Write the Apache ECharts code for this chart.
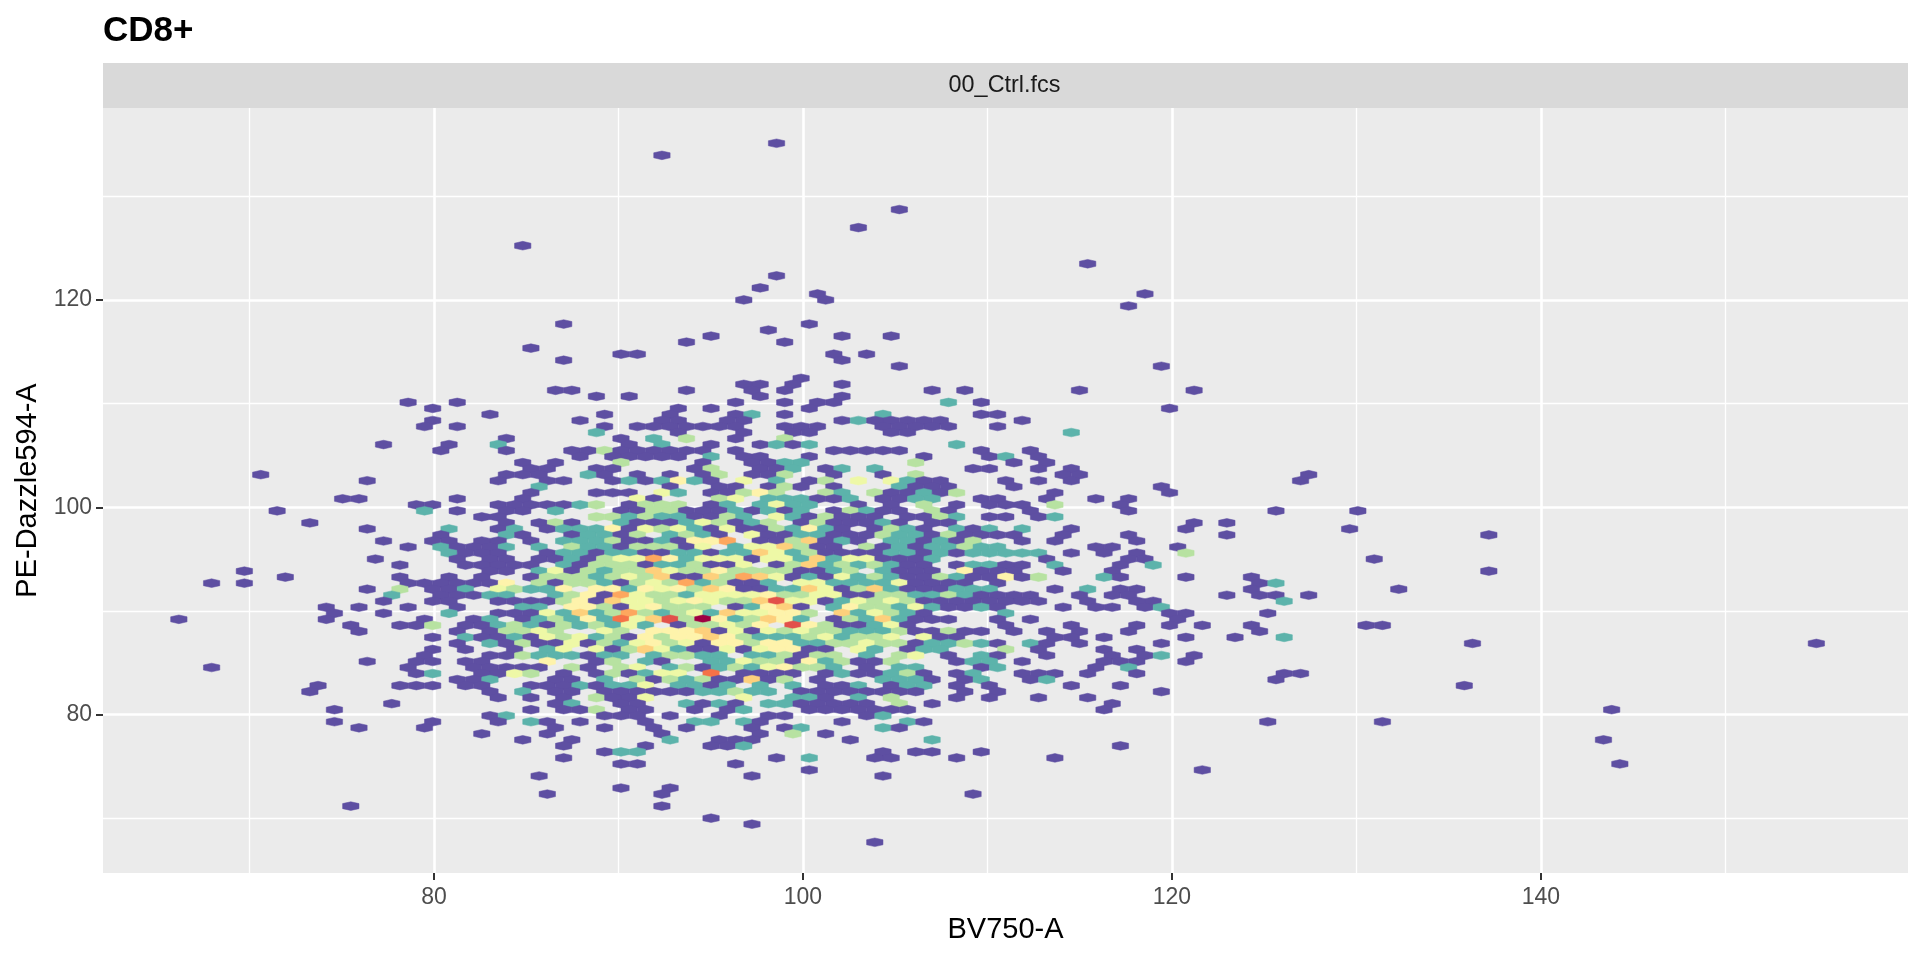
<!DOCTYPE html>
<html>
<head>
<meta charset="utf-8">
<style>html,body{margin:0;padding:0;background:#fff}#chart{width:1920px;height:960px}</style>
<script src="https://cdn.jsdelivr.net/npm/echarts@6/dist/echarts.min.js"></script>
</head>
<body>
<div id="chart"></div>
<script>
const chartTitle = 'CD8+';
const panelLabel = '00_Ctrl.fcs';
const xName = 'BV750-A';
const yName = 'PE-Dazzle594-A';
const xTicks = [80, 100, 120, 140];
const yTicks = [80, 100, 120];
const xMinor = [70, 90, 110, 130, 150];
const yMinor = [70, 90, 110, 130];

// hexagonal bins: column/row index of each occupied bin, written "col" (count 1) or "col:count"
const binOriginX = 62.178, binStepX = 0.4438;
const binOriginY = 110.125, binStepY = 0.58164;
const hexRows = [
[-43,"82"],[-41,"68"],[-32,"97"],[-29,"92"],[-26,"51"],[-23,"120"],[-21,"82"],[-19,"80"],
[-18,"87 127"],[-17,"78 88"],[-16,"125"],[-13,"56 86"],[-12,"81"],[-11,"74 90 96"],[-10,"71 83"],[-9,"52"],
[-8,"63 65 89 93"],[-7,"56 90"],[-6,"97 129"],[-4,"85"],[-3,"78 80 84 90"],
[-2,"55 57 71 79 83 101 105 119 133"],[-1,"60 64 80 90"],
[0,"37 43 77 83 87 89 103:2 107"],
[1,"40 70 74 86 130"],
[2,"47 61 69 77 79:2 83 95:2 107 109"],
[3,"40 58 68 70 76 78 90 92:2 94 96 98 100 102 112"],
[4,"39 43 61 65 67 69 71 73 75 77 83 85 87 95 97 99 101 103 109"],
[5,"60:2 70 78 84 86 96 98 118:2"],
[6,"49 63 67:2 71:3 77 83:3"],
[7,"34 42 48:2 64 68:2 74 80 82:2 84 86:2 104:2"],
[8,"41 49 57 59 61:3 63 65 67 69 71 73 77 89 91 93 95 97 107 113"],
[9,"58 62 64 66 68 70 74:2 78 80 86 100 108 110:2 114"],
[10,"51 55 63:3 73 79 81 83:2 85:2 99:3 111 115"],
[11,"52 54 60 62 72 74:3 80 82 84:2 88 90:2 94:2 106 108 114 118"],
[12,"19 49 51 53 59:2 61 65 69 73 75:3 79 81 83:3 89 95 99:3 117 119 147"],
[13,"32 48 54 56 62 64:2 66 68:2 70:5 72:2 74 78:4 82:2 86 88:3 92:4 96:4 98:2 100 102 110 114 118 146"],
[14,"53:2 69 75 77 81 83:3 85 89 97:2 99 101 103 111 129"],
[15,"52 60 62 64 68:4 70:2 74 76 78:3 80:5 82:3 88:3 90:2 94:3 96 98 100:2 102 104:3 116 130"],
[16,"29 31 43 51 65:4 67 75:3 77:4 81:2 83:2 85:2 87 89 91:2 95 97 99:2 101:2 107 109 115 121 125"],
[17,"38 40 48 50 52 54 56 58:2 60:3 64 66:3 68:3 70:3 74 76:2 80:2 82:4 84:2 86:2 92 96 100:3 104 108 110 112 116:3 124"],
[18,"21 39:2 43 49 51 55:2 63 65 67:3 69:3 71 73 75 77:2 79 81:2 83 85:2 89 91:3 93:2 95 97 101:3 103 113 125 143 153"],
[19,"46 48 60:3 62:3 64:2 66:3 68:2 70:2 72 74 76:3 78:2 82:4 84:2 86 88:3 90 92 94 98 100 102:3 104:2 108 110 114 116:2"],
[20,"25 49 53 55:3 57 63:2 65 67 69 71:2 73:4 75:3 77 79:2 81:3 85 87:3 89 91 93 95:2 97 101 103 133 137"],
[21,"32 42:2 48 50:2 54 56:2 58:2 60:2 62:5 64 66:4 68:3 70:4 72:2 74 76:4 78 80 82:3 84:2 86:5 88:2 90 94 96:3 98:2 100 104:2 106 108:2 112:2 118 132 152"],
[22,"41 49:2 51 57 59:2 61:2 63 65:3 69:2 71:3 73:2 75 79:4 81 83 85:2 87:2 89 91 93 95:3 97:2 99:2 101 103:3 105 107 109 111 117 125 137 169"],
[23,"34 40 42 46 48 52 56:2 58:2 60:2 62:3 64 66 68:2 70 72:5 74:5 76:7 80 82 84:3 86:6 88 90:2 92 96:2 98:2 100 102:2 104 106:3 112 116 126"],
[24,"37 41:2 43 45 47 49:2 53:2 57:3 59:2 61:2 63 65:3 67:3 69:3 71 73:4 77:2 79:4 81:4 83:6 85:3 87 89 93:3 95 97:2 99 101:2 103:2 105:3 107:2 109:2 121 123 131"],
[25,"42:2 44 46 48 54 56:2 58:2 60 62:2 64:2 66 68 70:2 72:2 74 76:2 78:2 80:6 82:4 84:2 86:3 88 90 92 94 96:2 98:2 100 102:2 104 106:2 108:2 110:2 112:2 114:2 118 122 126 132:3"],
[26,"33 43 47 49 53 55 57:2 59 61:3 63:4 65:4 67:7 69:5 71:2 73:4 75:4 77:4 79 81:4 83:4 85:2 87:6 89:2 91:4 93:4 95 97 99 101:2 115 125 127 155"],
[27,"36 44 46 48 50 52 56:2 58 60:3 62:3 64:3 66 68:2 70:2 72:3 74 76 78:4 82 84:3 86:6 88:2 90:3 92:2 94:3 96:2 98 100 104 106:2 108:2 110 112 116:2 124 128:2"],
[28,"17 47 49 53:2 55:4 57 59:3 61:2 63:3 65:3 67:6 69:4 71:3 73:3 75:5 77:3 79:3 81:3 83:3 85 87 89:2 91:3 95:2 97 99 101 105:5 107 109 111 117 123 169"],
[29,"22 36 42 46 52 54:3 56:3 58:3 60:2 62:3 64:4 66:3 68:6 70 72 74:6 76:3 78:7 80:6 82:4 84 86:2 88 90:4 92:2 94:3 96:2 98 100 102:3 104:2 106 108 110:5 112 114:3 122:2 124 132 140"],
[30,"13 17 37 39 41 43 45 47 49:5 53:3 55 57:3 59:3 61:2 63 65:3 67:4 69:3 71:7 73:2 75:3 77 79 81:2 85:4 87:4 89:2 91:2 93:2 95:2 97:4 99 101 103 105 109 141 143:2"],
[31,"32 36:3 40 42 44:2 48:4 50:3 52:2 54:2 56:5 60:5 62:5 64:2 66:5 68:4 70:5 72:3 74:6 76:5 78 80 82:2 84:2 86:6 88:4 90 92:3 94:6 96:2 98 100 102 104:2 106:2 108:2 116 120:2 124 126 140 158"],
[32,"35:2 41 43 45 47:2 49:2 55:2 57:3 59:5 61 63:7 65:4 67:3 69:3 71:2 73:4 75:4 77:4 79:4 81:5 83:3 85:3 87:4 89:4 91 93 95:3 97:3 99:2 101:2 103:3 105:2 107 109 111 113 119 123 125 137 141 143 147"],
[33,"34 40 42 48 50 52 54 56:3 58:5 60 62:6 64:4 66:4 68:3 70:4 72:5 74:4 76:3 78:3 80:6 82:9 84:4 86:4 88 90:2 92:4 94:3 96:4 98:3 100 102 104 106 108 110 112 114 120 126 128 144:2"],
[34,"27 31 37 43 51:2 53:2 57:5 59:5 61:3 63 65:4 67:5 69:3 71:3 73:3 77 79:2 81:5 83:6 85 89:2 91:5 93:3 95:3 97:2 99:4 101:2 103 105 107:2 109 117 121 123 127 129:2"],
[35,"28 34 42:2 48 50 52 54:4 56:2 58:6 60:2 62:3 64:7 66:3 68:2 70:3 72:4 74:2 76:6 78:4 80:4 82:5 84:5 86:3 90:6 92:2 94:4 96:3 98:2 100 110:2 130 132 142"],
[36,"9 27 39 45 47:2 51 53:2 55:3 57:2 59:5 61:2 63:8 65:4 67:6 69:9 71:3 73:10 75:5 77:2 79:3 81:6 83:5 85:2 89 91:3 93:2 95:6 97:2 99 101 103 109 113 131"],
[37,"30 36 38 40:3 44 46 48:2 50:3 52:2 54 56:3 58:2 60:3 62:2 64:4 66:2 70 72:3 74:3 76:4 78:3 80:5 84:9 86:5 88:3 90 92 94:2 96:4 98 110 118 126 130 134 140 154 156"],
[38,"31 43 47 49:3 51:3 53:4 55:3 61:4 63:3 67:5 69:5 71:5 73:6 75 77:4 79 81:4 83:3 85:4 87:3 89:3 91:2 93:2 95:2 97:3 99 101 103:3 105 107 111 115 119 125 141"],
[39,"40 44:2 46 48 50:2 52 54:4 56:3 58:4 60:2 62:3 64 66:5 68:3 70:5 72:5 74:6 76:5 78:3 80:2 82:2 84:2 86:3 88:4 90:2 92:3 94:3 96:4 100:4 102 104 116 118 122 132 138 144:2"],
[40,"43 47:2 49 51:3 53 55 57:4 59 61:3 63:2 65:4 67:5 69:3 71:4 73 75:5 77:5 79:3 81:5 83:5 85:2 87:2 89:3 91:3 93:4 95:3 97:3 99 101:2 103:2 105:3 107:2 109 113:2 115 119 129 167 209"],
[41,"40 44 50 54:2 56:4 60:4 62 64:3 66:6 68:4 70:2 72 74 76:4 78 80:4 82:5 84:5 86 88 92:4 94:2 98 100:2 102:2 110:3 114 122 126"],
[42,"39 47 49 51:3 53:2 55:2 57:2 59 61:2 63:2 67:2 69:3 71:3 73:2 75:2 79:2 81:2 83:3 85 87:3 89:3 93:2 97:3 99:4 103 107:2 109 115 123 127 129:2 133"],
[43,"32 38 40 44 46 54:5 60 62:3 66:2 68 74:2 76:2 78:4 80:3 82:3 84 86:5 88:2 90:3 92 94 96:3 104 106:2 108:2 112 122 124 126 132"],
[44,"13 37 45 47 49 51 53 57:3 59 63:3 65:4 69:2 71:3 73 75:2 77:3 79:2 81:4 83:5 85:3 87:3 89:2 93 97:2 99:2 107 109:2 121 125:2"],
[45,"38 40:2 46 48 50:4 52:3 56 60 62:3 64 66:2 68:4 70:4 74:8 78 80 82 84 88 90:2 92 94 96:2 98:3 100 104 106:2 112 114 116 120 126 144 146"],
[46,"43 45 47:2 55 57 61:2 65:3 67 69:3 71:2 73:3 75 77 79:6 81 83:3 87 95:2 97:2 99:2 101 105 107:2 113 115:2 143"],
[47,"26 36 38 40 44 46 52 54 56 58:2 60 62:2 64:2 66:4 70:2 72:2 74 76:2 80:2 84:2 88 90 92:2 96 98:2 100:2 104 108 118 124 166"],
[48,"25 47 51:2 55 57 61 63 65 67 69 71 73:2 75:2 77:3 79:2 81:2 85 87 89 91 93 95 97 99 105 109 129"],
[49,"48 52 56 60:3 62 64 66:4 78:4 84:2 86:2 88 92:2 96:3 104 108 114 120"],
[50,"35 55 57:2 63 65 71:2 73 75:2 77 81:2 83:2 85 87 89 91 93 97:3 101 123"],
[51,"28 52 56 58 60:3 64 66 72 76 78:2 86 88 90 92 94 96 98 122 184"],
[52,"47 49:2 61 63 65 69 75 81 83 93 95:2"],
[53,"28 40 48 52:2 54 58 66 72:2 74:2 78:2 80 90 98:2 100 142 156"],
[54,"31 39 55 61 67 71 79 83 85:2 95:2 97"],
[55,"46 54 68 80 84:3 88"],
[56,"51 57 69:2 75 77 79 91 101:2 183"],
[57,"56 66 74 76 78:2 124"],
[58,"61 63:2 65:2 95 99 101 107"],
[59,"56 82 86:2 94 96 104 116"],
[60,"63 65 77 185"],[61,"86 134"],[62,"53 79 95"],[64,"63 69"],[65,"54 68 106"],[67,"30 68"],[69,"74"],[70,"79"],[73,"94"]
];
const countColors = [null,'#5E4FA2','#5CB3AB','#B7E2A1','#EEF8A6','#FEF3AB','#FDD07C','#FDA75E','#F57248','#E2514A','#9E0142'];

const hexData = [];
hexRows.forEach(function (r) {
  r[1].split(' ').forEach(function (t) {
    const p = t.split(':');
    hexData.push([binOriginX + (+p[0]) * binStepX, binOriginY - r[0] * binStepY, p[1] ? +p[1] : 1]);
  });
});

const halfW = binStepX, tipH = binStepY * 0.72, sideH = binStepY * 0.42;
const hexShape = [[0, tipH], [halfW, sideH], [halfW, -sideH], [0, -tipH], [-halfW, -sideH], [-halfW, sideH]];
const fontFam = '"Liberation Sans", Arial, sans-serif';

function gridLine(name, width, xs, ys) {
  return {
    name: name, type: 'line', data: [], silent: true, z: 1,
    markLine: {
      silent: true, symbol: ['none', 'none'], label: { show: false }, animation: false, z: 1,
      lineStyle: { color: '#FFFFFF', width: width, type: 'solid', opacity: 1 },
      data: xs.map(function (v) { return { xAxis: v }; }).concat(ys.map(function (v) { return { yAxis: v }; }))
    }
  };
}

const chart = echarts.init(document.getElementById('chart'), null, { renderer: 'canvas' });
chart.setOption({
  animation: false,
  backgroundColor: '#FFFFFF',
  title: {
    text: chartTitle, left: 98, top: 9,
    textStyle: { fontFamily: fontFam, fontSize: 35, fontWeight: 'bold', color: '#000000' }
  },
  grid: { left: 103, right: 12, top: 108, bottom: 87, show: true, backgroundColor: '#EBEBEB', borderWidth: 0, containLabel: false, outerBoundsMode: 'none' },
  xAxis: {
    type: 'value', min: 62.06, max: 159.9, name: xName, nameLocation: 'middle', nameGap: 42,
    nameTextStyle: { fontFamily: fontFam, fontSize: 29, color: '#000000' },
    axisLine: { show: false }, splitLine: { show: false },
    axisTick: { show: true, length: 7, customValues: xTicks, lineStyle: { color: '#333333', width: 2 } },
    axisLabel: { customValues: xTicks, fontFamily: fontFam, fontSize: 23, color: '#4D4D4D', margin: 13 }
  },
  yAxis: {
    type: 'value', min: 64.7, max: 138.54, name: yName, nameLocation: 'middle', nameGap: 60,
    nameTextStyle: { fontFamily: fontFam, fontSize: 29, color: '#000000' },
    axisLine: { show: false }, splitLine: { show: false },
    axisTick: { show: true, length: 7, customValues: yTicks, lineStyle: { color: '#333333', width: 2 } },
    axisLabel: { customValues: yTicks, fontFamily: fontFam, fontSize: 23, color: '#4D4D4D', margin: 11 }
  },
  series: [
    gridLine('minor', 1.3, xMinor, yMinor),
    gridLine('major', 2.6, xTicks, yTicks),
    {
      name: 'bins', type: 'custom', data: hexData, encode: { x: 0, y: 1 }, z: 3, silent: true,
      renderItem: function (params, api) {
        const cx = api.value(0), cy = api.value(1), n = api.value(2);
        const pts = hexShape.map(function (o) { return api.coord([cx + o[0], cy + o[1]]); });
        const col = countColors[n];
        return { type: 'polygon', shape: { points: pts }, style: { fill: col, stroke: col, lineWidth: 0.5 } };
      }
    }
  ],
  graphic: [
    { type: 'rect', z: 5, shape: { x: 103, y: 63, width: 1805, height: 45 }, style: { fill: '#D9D9D9' } },
    { type: 'text', z: 6, x: 1004.5, y: 85.5, style: { text: panelLabel, align: 'center', verticalAlign: 'middle', font: '23.4px "Liberation Sans", Arial, sans-serif', fill: '#1A1A1A' } }
  ]
});
</script>
</body>
</html>
